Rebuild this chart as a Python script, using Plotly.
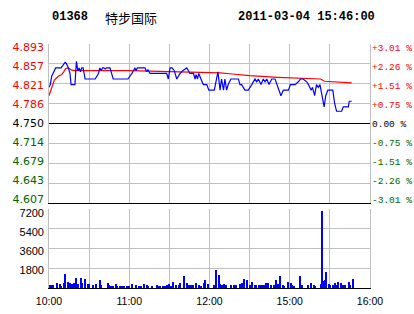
import plotly.graph_objects as go

# ---------------- data ----------------
STOCK_CODE = "01368"
STOCK_NAME = "特步国际"
STAMP = "2011-03-04 15:46:00"
PREV_CLOSE = 4.75

price_labels = ["4.607", "4.643", "4.679", "4.714", "4.750", "4.786", "4.821", "4.857", "4.893"]
pct_labels = ["-3.01 %", "-2.26 %", "-1.51 %", "-0.75 %", "0.00 %", "+0.75 %", "+1.51 %", "+2.26 %", "+3.01 %"]
vol_ticks = [1800, 3600, 5400, 7200]
vol_labels = ["1800", "3600", "5400", "7200"]
time_ticks = [0, 30, 60, 90, 120, 150, 180, 210, 240]
time_labels = ["10:00", "", "11:00", "", "12:00", "", "15:00", "", "16:00"]

# last price (minute index from 10:00, trading minutes only)
price_min = [0, 1, 2, 3, 5, 9, 11, 12, 13, 14.5, 15.7, 16.5, 19.4, 20.5, 21.5, 22.5, 23.5, 24.5,
             25.5, 26, 27, 34.5, 37, 38, 39, 40, 41, 42, 43, 45.6, 48, 59, 62, 64.3, 65, 66, 71.8,
             73, 74, 75.5, 88, 89.2, 90.5, 92, 93.7, 95.5, 98, 100, 103, 105.4, 108, 109.2, 110,
             111, 112, 113.6, 115.4, 118, 119.5, 123.6, 125.4, 126.3, 127.9, 129, 130.5, 131.5,
             132.8, 134, 136, 141.6, 142.8, 144, 146.5, 149, 151.6, 154, 155.3, 156.5, 158.5,
             160.2, 161.5, 162.8, 164.5, 166.5, 169, 170.4, 171.6, 173.4, 175.2, 177.7, 179,
             180.5, 184, 186.4, 188, 190, 192.7, 194, 196, 197, 198.6, 200, 201.3, 202.6, 203.4,
             205.7, 206.9, 208.5, 212.2, 213.5, 215, 218.8, 220, 223.8, 224.5, 226.3]
price_val = [4.815, 4.82, 4.835, 4.84, 4.85, 4.85, 4.858, 4.86, 4.858, 4.85, 4.84, 4.82, 4.82, 4.862,
             4.845, 4.85, 4.843, 4.85, 4.85, 4.845, 4.83, 4.83, 4.84, 4.85, 4.845, 4.85, 4.85, 4.848,
             4.85, 4.85, 4.83, 4.83, 4.84, 4.85, 4.845, 4.85, 4.85, 4.843, 4.847, 4.84, 4.84, 4.83,
             4.85, 4.85, 4.845, 4.83, 4.84, 4.845, 4.85, 4.84, 4.84, 4.83, 4.838, 4.83, 4.84, 4.83,
             4.82, 4.82, 4.81, 4.81, 4.83, 4.843, 4.81, 4.83, 4.81, 4.83, 4.81, 4.82, 4.83, 4.83,
             4.82, 4.82, 4.81, 4.81, 4.82, 4.83, 4.825, 4.83, 4.82, 4.83, 4.825, 4.83, 4.82, 4.83,
             4.83, 4.82, 4.81, 4.80, 4.81, 4.81, 4.81, 4.82, 4.82, 4.825, 4.83, 4.83, 4.825, 4.82,
             4.81, 4.815, 4.80, 4.82, 4.815, 4.82, 4.81, 4.78, 4.80, 4.81, 4.81, 4.787, 4.772,
             4.772, 4.78, 4.78, 4.79, 4.79]

# average price
avg_min = [0, 2, 4, 7, 9.5, 11, 12.5, 14.5, 17, 20, 60, 113, 128, 137, 150, 171, 186, 203, 206, 218, 226.3]
avg_val = [4.80, 4.815, 4.828, 4.835, 4.838, 4.843, 4.849, 4.85, 4.846, 4.845, 4.845, 4.842, 4.841,
           4.839, 4.836, 4.833, 4.832, 4.830, 4.826, 4.824, 4.823]

# volume per minute
vol_min = [1, 2, 3, 6, 8, 9, 11, 12, 14, 16, 17, 19, 20, 22, 24, 25, 27, 29, 30, 33, 35, 38, 39, 44,
           45, 46, 48, 50, 51, 53, 54, 55, 56, 58, 60, 62, 65, 67, 69, 71, 73, 74, 77, 81, 82, 83,
           85, 86, 87, 88, 90, 91, 93, 95, 97, 98, 101, 103, 105, 106, 108, 110, 112, 114, 116, 117,
           119, 123, 125, 127, 128, 129, 131, 132, 136, 138, 140, 143, 144, 146, 148, 150, 152, 154,
           155, 157, 158, 159, 161, 162, 164, 166, 168, 170, 171, 173, 175, 176, 179, 181, 182, 183,
           188, 189, 194, 196, 198, 199, 203, 204, 205, 206, 207, 209, 210, 212, 214, 215, 216, 218,
           220, 221, 224, 225, 227]
vol_val = [300, 320, 300, 470, 380, 220, 470, 1260, 570, 470, 380, 470, 885, 380, 885, 470, 790, 380,
           380, 316, 380, 695, 316, 474, 253, 158, 221, 380, 221, 221, 221, 221, 221, 221, 221, 380,
           316, 221, 221, 380, 316, 221, 221, 316, 221, 221, 221, 221, 221, 316, 380, 221, 570, 253,
           316, 474, 1075, 474, 253, 316, 253, 474, 253, 221, 474, 758, 380, 253, 1600, 1200, 380,
           253, 380, 316, 316, 316, 316, 380, 474, 790, 695, 253, 569, 316, 316, 316, 316, 316, 316,
           474, 474, 253, 316, 695, 380, 1050, 316, 221, 569, 474, 316, 158, 1120, 316, 316, 474,
           316, 221, 380, 7000, 640, 758, 1500, 380, 316, 316, 474, 253, 569, 474, 316, 316, 569,
           316, 790]

# ---------------- styling ----------------
GRID = "#c0c0c0"
RED = "#ff0000"
GREEN = "#006600"
BLUE = "#0000ff"
LABEL_SPREAD = 159 / 152      # label column spacing vs. grid spacing
VOL_LABEL_RANGE = [86, 7609]

p_lo, p_hi = float(price_labels[0]), float(price_labels[-1])
n = len(price_labels) - 1
grid_vals = [p_lo + (p_hi - p_lo) * k / n for k in range(n + 1)]
grid_vals[-1] = p_hi
mid = (p_lo + p_hi) / 2
half = (p_hi - p_lo) / 2 * LABEL_SPREAD
label_range = [mid - half, mid + half]


def colored(texts, vals):
    out = []
    for t, v in zip(texts, vals):
        if abs(v - PREV_CLOSE) < 1e-6:
            c = "#000000"
        elif v > PREV_CLOSE:
            c = RED
        else:
            c = GREEN
        out.append(f"<span style='color:{c}'>{t}</span>")
    return out


fig = go.Figure()
fig.add_trace(go.Scatter(x=avg_min, y=avg_val, mode="lines", line=dict(color=RED, width=1.2),
                         xaxis="x", yaxis="y", hoverinfo="skip"))
fig.add_trace(go.Scatter(x=price_min, y=price_val, mode="lines", line=dict(color=BLUE, width=1.2),
                         xaxis="x", yaxis="y", hoverinfo="skip"))
fig.add_trace(go.Bar(x=vol_min, y=vol_val, width=0.75, marker=dict(color=BLUE, line=dict(width=0)),
                     xaxis="x2", yaxis="y2", hoverinfo="skip"))
for ax in ["y3", "y4"]:
    fig.add_trace(go.Scatter(x=[None], y=[None], xaxis="x", yaxis=ax, hoverinfo="skip"))
fig.add_trace(go.Scatter(x=[None], y=[None], xaxis="x2", yaxis="y5", hoverinfo="skip"))

fig.add_shape(type="line", xref="x domain", x0=0, x1=1, yref="y", y0=PREV_CLOSE, y1=PREV_CLOSE,
              line=dict(color="#000000", width=1))

xcommon = dict(range=[0, 240], tickvals=time_ticks, showgrid=True, gridcolor=GRID, gridwidth=1,
               zeroline=False, showline=True, linecolor="#000000", linewidth=1, ticks="",
               fixedrange=True, automargin=False)

fig.update_layout(
    width=414, height=314,
    margin=dict(l=49, r=44, t=44, b=26, pad=0, autoexpand=False),
    paper_bgcolor="#ffffff", plot_bgcolor="#ffffff",
    showlegend=False,
    xaxis=dict(**xcommon, anchor="y", showticklabels=False),
    xaxis2=dict(**xcommon, anchor="y2", matches="x", ticktext=time_labels, showticklabels=True,
                tickfont=dict(family="Liberation Sans", size=10.5, color="#000000"),
                ticklabelstandoff=3),
    yaxis=dict(domain=[0.3484, 1], range=[p_lo, p_hi], tickvals=grid_vals, showticklabels=False,
               showgrid=True, gridcolor=GRID, gridwidth=1, zeroline=False, showline=True,
               linecolor=GRID, mirror=True, ticks="", anchor="x", automargin=False),
    yaxis3=dict(overlaying="y", side="left", anchor="x", range=label_range, tickvals=grid_vals,
                ticktext=colored(price_labels, grid_vals), showgrid=False, zeroline=False,
                showline=False, ticks="", ticklabelstandoff=4, automargin=False,
                tickfont=dict(family="DejaVu Sans", size=11)),
    yaxis4=dict(overlaying="y", side="right", anchor="x", range=label_range, tickvals=grid_vals,
                ticktext=colored(pct_labels, grid_vals), showgrid=False, zeroline=False,
                showline=False, ticks="", ticklabelstandoff=1, automargin=False,
                tickfont=dict(family="Liberation Mono", size=9.5)),
    yaxis2=dict(domain=[0, 0.3238], range=[0, vol_ticks[-1]], tickvals=[0] + vol_ticks,
                showticklabels=False, showgrid=True, gridcolor=GRID, gridwidth=1, zeroline=False,
                showline=True, linecolor=GRID, mirror=True, ticks="", anchor="x2", automargin=False),
    yaxis5=dict(overlaying="y2", side="left", anchor="x2", range=VOL_LABEL_RANGE, tickvals=vol_ticks,
                ticktext=vol_labels, showgrid=False, zeroline=False, showline=False, ticks="",
                ticklabelstandoff=4, automargin=False,
                tickfont=dict(family="Liberation Sans", size=11, color="#000000")),
    bargap=0,
)

title_y = 1 + (44 - 17) / 244
fig.add_annotation(text=f"<b>{STOCK_CODE}</b>", xref="paper", yref="paper", x=(50 - 49) / 321, y=title_y,
                   xanchor="left", yanchor="middle", showarrow=False,
                   font=dict(family="Liberation Mono", size=12, color="#000000"))
fig.add_annotation(text=STOCK_NAME, xref="paper", yref="paper", x=(103 - 49) / 321, y=title_y,
                   xanchor="left", yanchor="middle", showarrow=False,
                   font=dict(family="Noto Sans CJK SC", size=13, color="#000000"))
fig.add_annotation(text=f"<b>{STAMP}</b>", xref="paper", yref="paper", x=(236 - 49) / 321, y=title_y,
                   xanchor="left", yanchor="middle", showarrow=False,
                   font=dict(family="Liberation Mono", size=12, color="#000000"))

fig.write_html("out.html")
